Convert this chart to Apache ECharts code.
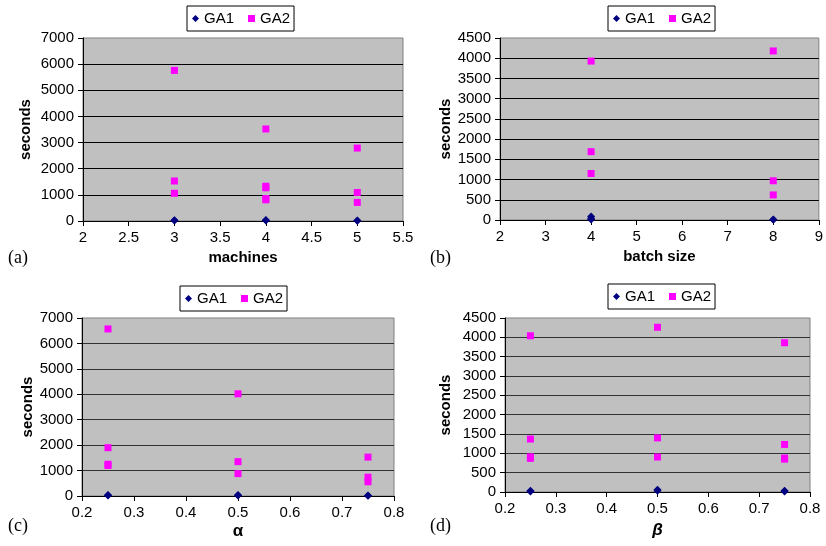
<!DOCTYPE html>
<html><head><meta charset="utf-8">
<script src="https://cdn.jsdelivr.net/npm/echarts@6/dist/echarts.min.js"></script>
<style>html,body{margin:0;padding:0;background:#fff}#c{width:826px;height:546px}</style>
</head><body><div id="c"></div>
<script>
// Panel (a): machines
const machinesX = [3, 4, 5];
const machinesGA1 = [[30, 15], [35, 15], [20, 10]];
const machinesGA2 = [[5760, 1530, 1060], [3520, 1330, 1270, 860, 810], [2790, 1090, 710]];
// Panel (b): batch size
const batchX = [4, 8];
const batchGA1 = [[85, 40, 15], [10, 5]];
const batchGA2 = [[3930, 1690, 1150], [4180, 970, 620]];
// Panel (c): alpha
const alphaX = [0.25, 0.5, 0.75];
const alphaGA1 = [[40, 20], [40, 20], [20, 10]];
const alphaGA2 = [[6570, 1900, 1250, 1200], [4020, 1350, 880], [1530, 740, 560]];
// Panel (d): beta
const betaX = [0.25, 0.5, 0.75];
const betaGA1 = [[35, 15], [60, 30], [35, 15]];
const betaGA2 = [[4040, 1370, 910, 870], [4260, 1400, 905], [3860, 1230, 880, 850]];

// Axis definitions
const xMin = [2, 2, 0.2, 0.2];
const xMax = [5.5, 9, 0.8, 0.8];
const xInterval = [0.5, 1, 0.1, 0.1];
const yMax = [7000, 4500, 7000, 4500];
const yInterval = [1000, 500, 1000, 500];
const xNames = ['machines', 'batch size', 'α', 'β'];
const panelLabels = ['(a)', '(b)', '(c)', '(d)'];

function pairs(xs, groups) {
  const out = [];
  xs.forEach((x, i) => groups[i].forEach(v => out.push([x, v])));
  return out;
}
const ga1Sets = [pairs(machinesX, machinesGA1), pairs(batchX, batchGA1), pairs(alphaX, alphaGA1), pairs(betaX, betaGA1)];
const ga2Sets = [pairs(machinesX, machinesGA2), pairs(batchX, batchGA2), pairs(alphaX, alphaGA2), pairs(betaX, betaGA2)];

const FONT = "'Liberation Sans', Arial, sans-serif";
const grids = [
  {left: 83, top: 38, width: 320, height: 183},
  {left: 500, top: 38, width: 324, height: 182},
  {left: 82, top: 318, width: 312, height: 178},
  {left: 505, top: 318, width: 305, height: 174}
];
const yNameGaps = [50, 47, 47, 52];
const xNameGaps = [29, 29, 27, 30];
const legendPos = [
  {left: 187, top: 6}, {left: 608, top: 6}, {left: 180, top: 286}, {left: 608, top: 284}
];
const labelPos = [[8, 249], [430, 249], [8, 517], [430, 517]];
const gridColors = ['#000', '#000', '#333', '#333'];

const fmt = v => String(Math.round(v * 1000) / 1000);

const option = {
  animation: false,
  backgroundColor: '#fff',
  textStyle: {fontFamily: FONT},
  grid: grids.map(g => Object.assign({show: true, backgroundColor: '#c0c0c0', borderColor: '#808080', borderWidth: 1}, g)),
  xAxis: grids.map((g, i) => ({
    type: 'value', gridIndex: i, min: xMin[i], max: xMax[i], interval: xInterval[i],
    name: xNames[i], nameLocation: 'middle', nameGap: xNameGaps[i],
    nameTextStyle: {fontFamily: FONT, fontSize: i >= 2 ? 17 : 15, fontWeight: 'bold', fontStyle: i === 3 ? 'italic' : 'normal', color: '#000'},
    axisLine: {show: true, onZero: false, lineStyle: {color: '#000', width: 1}},
    axisTick: {show: true, inside: false, length: 5, lineStyle: {color: '#000'}},
    axisLabel: {fontFamily: FONT, fontSize: 15, color: '#000', margin: 9, formatter: fmt},
    splitLine: {show: false}
  })),
  yAxis: grids.map((g, i) => ({
    type: 'value', gridIndex: i, min: 0, max: yMax[i], interval: yInterval[i],
    name: 'seconds', nameLocation: 'middle', nameGap: yNameGaps[i], nameRotate: 90,
    nameTextStyle: {fontFamily: FONT, fontSize: 15, fontWeight: 'bold', color: '#000'},
    axisLine: {show: true, lineStyle: {color: '#000', width: 1}},
    axisTick: {show: true, inside: false, length: 5, lineStyle: {color: '#000'}},
    axisLabel: {fontFamily: FONT, fontSize: 15, color: '#000', margin: 9, formatter: fmt},
    splitLine: {show: true, showMinLine: false, showMaxLine: false, lineStyle: {color: gridColors[i], width: 1}}
  })),
  legend: legendPos.map(p => ({
    left: p.left, top: p.top, orient: 'horizontal',
    data: [{name: 'GA1', icon: 'diamond'}, {name: 'GA2', icon: 'rect'}],
    itemWidth: 7, itemHeight: 7, itemGap: 14,
    padding: [5, 4, 5, 5],
    borderColor: '#000', borderWidth: 1, backgroundColor: '#fff', borderRadius: 0,
    textStyle: {fontFamily: FONT, fontSize: 15, color: '#000'},
    selectedMode: false
  })),
  graphic: panelLabels.map((t, i) => ({
    type: 'text', left: labelPos[i][0], top: labelPos[i][1],
    style: {text: t, font: "18px 'Liberation Serif', 'Times New Roman', serif", fill: '#000'}
  })),
  series: []
};
for (let i = 0; i < 4; i++) {
  option.series.push({
    name: 'GA1', type: 'scatter', xAxisIndex: i, yAxisIndex: i, data: ga1Sets[i],
    symbol: 'diamond', symbolSize: 8, itemStyle: {color: '#000080', opacity: 1}
  });
  option.series.push({
    name: 'GA2', type: 'scatter', xAxisIndex: i, yAxisIndex: i, data: ga2Sets[i],
    symbol: 'rect', symbolSize: 7, itemStyle: {color: '#ff00ff', opacity: 1}
  });
}
echarts.init(document.getElementById('c'), null, {renderer: 'canvas'}).setOption(option);
</script></body></html>
